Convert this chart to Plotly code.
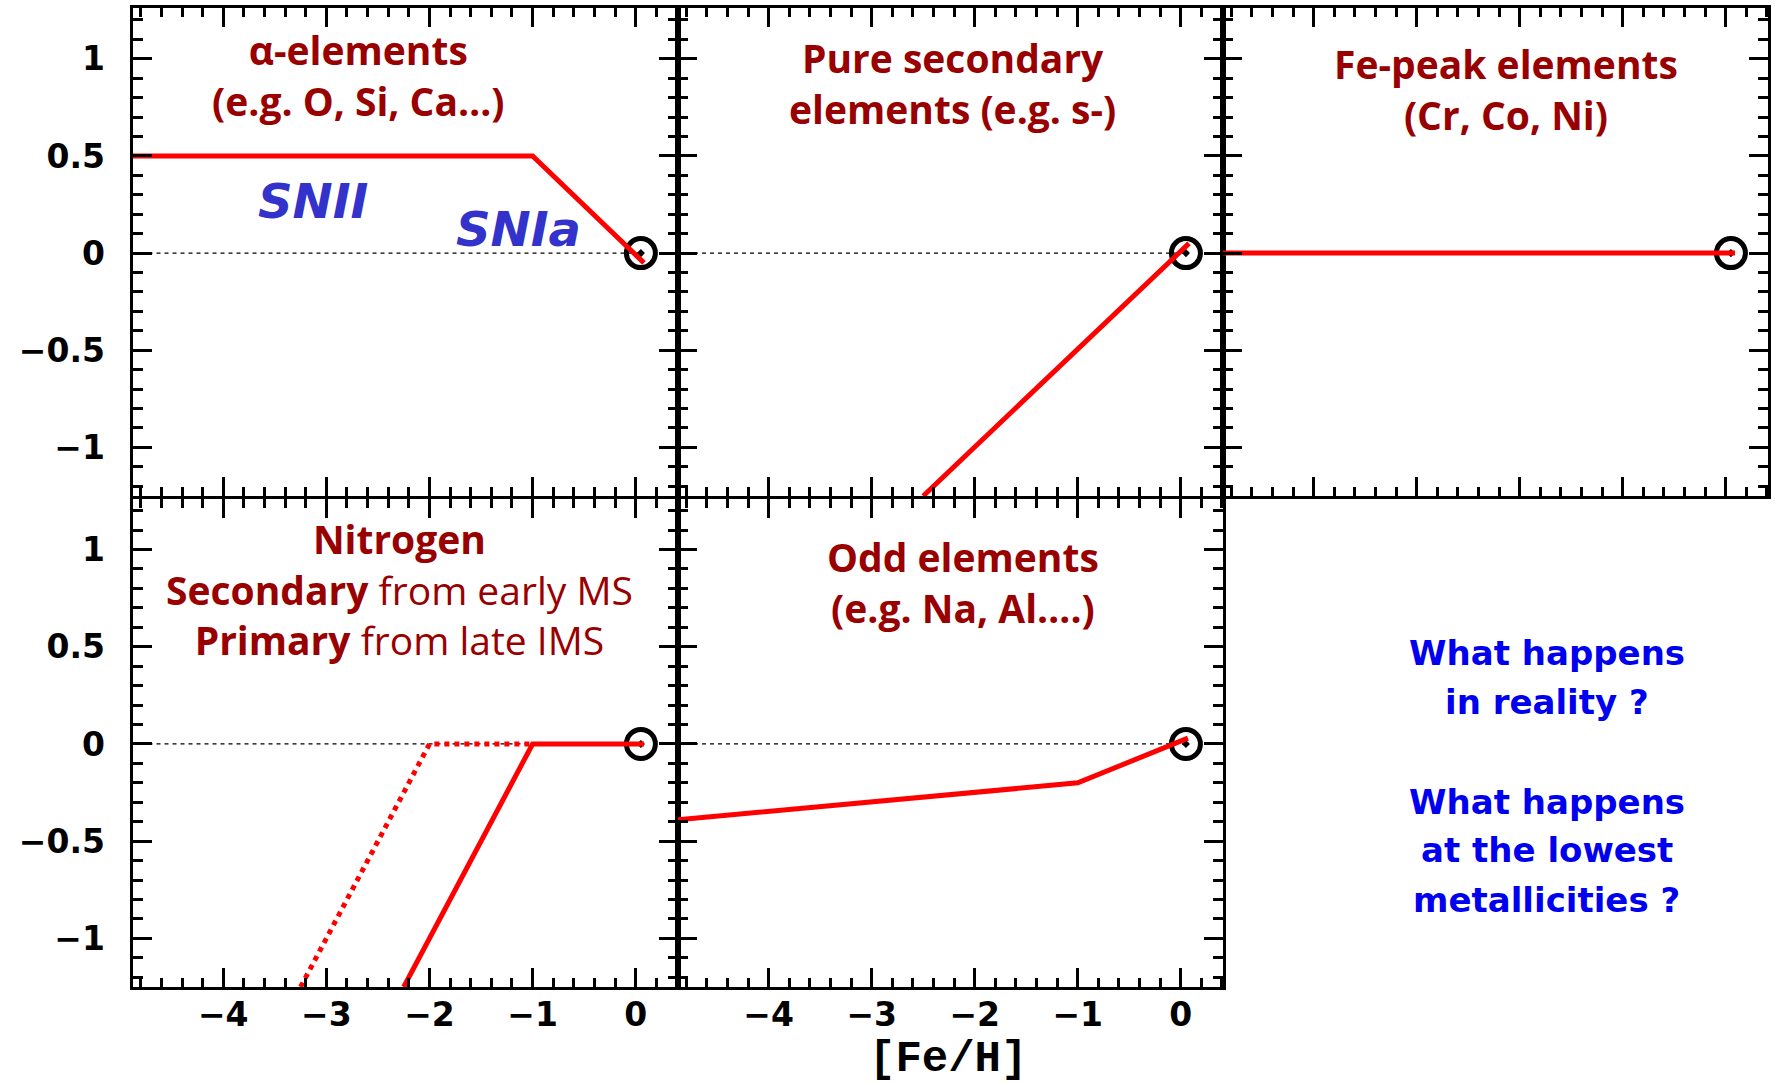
import plotly.graph_objects as go

W, H = 1775, 1084

# ---- axis ranges and tick labels -------------------------------------------
X_RANGE = [-4.88, 0.41]
Y_RANGE = [-1.25, 1.26]
x_tickvals = [-4, -3, -2, -1, 0]
x_ticktext = ["\u22124", "\u22123", "\u22122", "\u22121", "0"]
y_tickvals = [-1, -0.5, 0, 0.5, 1]
y_ticktext = ["\u22121", "\u22120.5", "0", "0.5", "1"]

# ---- schematic [X/Fe] vs [Fe/H] tracks --------------------------------------
sun_feh = [0.05]
sun_xfe = [0.0]

zero_feh = [-4.88, 0.05]
zero_xfe = [0.0, 0.0]

alpha_feh = [-4.88, -1.0, 0.08]
alpha_xfe = [0.5, 0.5, -0.05]

secondary_feh = [-2.5, 0.08]
secondary_xfe = [-1.25, 0.05]

fepeak_feh = [-4.88, 0.09]
fepeak_xfe = [0.0, 0.0]

nitro_sec_feh = [-2.25, -1.0, 0.08]
nitro_sec_xfe = [-1.25, 0.0, 0.0]
nitro_prim_feh = [-3.25, -2.0, -1.0]
nitro_prim_xfe = [-1.25, 0.0, 0.0]

odd_feh = [-4.88, -1.0, 0.07]
odd_xfe = [-0.39, -0.2, 0.03]

# ---- panel geometry (pixels) -----------------------------------------------
col_px = [(132.5, 678.0), (678.0, 1223.0), (1223.0, 1768.0)]
row_px = [(8.3, 496.0), (499.0, 987.0)]


def xdom(c):
    a, b = col_px[c]
    return [a / W, b / W]


def ydom(r):
    a, b = row_px[r]
    return [1 - b / H, 1 - a / H]


RED = "#ff0000"
DARKRED = "#990000"
TICKFONT = dict(family="DejaVu Sans", size=33, color="black", weight="bold")

fig = go.Figure()

# panel index -> (row, col, show x labels, show y labels)
panels = {
    1: (0, 0, False, True),
    2: (0, 1, False, False),
    3: (0, 2, False, False),
    4: (1, 0, True, True),
    5: (1, 1, True, False),
}

for i, (r, c, showx, showy) in panels.items():
    sfx = "" if i == 1 else str(i)
    common = dict(
        showline=True, linewidth=3, linecolor="black", mirror="allticks",
        ticks="inside", tickwidth=3, ticklen=19, tickcolor="black",
        showgrid=False, zeroline=False, tickfont=TICKFONT,
    )
    fig.layout["xaxis" + sfx] = dict(
        common, domain=xdom(c), range=X_RANGE, anchor="y" + sfx,
        tickmode="array", tickvals=x_tickvals, ticktext=x_ticktext,
        showticklabels=showx, ticklabelstandoff=-4,
        minor=dict(tickmode="linear", tick0=0, dtick=0.2, ticks="inside",
                   ticklen=9, tickwidth=3, tickcolor="black"),
    )
    fig.layout["yaxis" + sfx] = dict(
        common, domain=ydom(r), range=Y_RANGE, anchor="x" + sfx,
        tickmode="array", tickvals=y_tickvals, ticktext=y_ticktext,
        showticklabels=showy, ticklabelstandoff=18,
        minor=dict(tickmode="linear", tick0=0, dtick=0.1, ticks="inside",
                   ticklen=10, tickwidth=3, tickcolor="black"),
    )


def axes(i):
    sfx = "" if i == 1 else str(i)
    return dict(xaxis="x" + sfx, yaxis="y" + sfx)


def zero_line(i):
    fig.add_trace(go.Scatter(x=zero_feh, y=zero_xfe, mode="lines",
                             line=dict(color="black", width=1.2, dash="4px,4px"),
                             showlegend=False, hoverinfo="skip", **axes(i)))


def sun(i):
    fig.add_trace(go.Scatter(x=sun_feh, y=sun_xfe, mode="markers",
                             marker=dict(symbol="circle-open-dot", size=29,
                                         color="black",
                                         line=dict(color="black", width=5)),
                             showlegend=False, hoverinfo="skip", **axes(i)))


def track(i, xs, ys, dash="solid"):
    fig.add_trace(go.Scatter(x=xs, y=ys, mode="lines",
                             line=dict(color=RED, width=5, dash=dash),
                             showlegend=False, hoverinfo="skip", **axes(i)))


for i in (1, 2, 4, 5):
    zero_line(i)
for i in (1, 2, 3, 4, 5):
    sun(i)

track(1, alpha_feh, alpha_xfe)
track(2, secondary_feh, secondary_xfe)
track(3, fepeak_feh, fepeak_xfe)
track(4, nitro_prim_feh, nitro_prim_xfe, dash="dot")
track(4, nitro_sec_feh, nitro_sec_xfe)
track(5, odd_feh, odd_xfe)

# ---- panel labels -----------------------------------------------------------
TITLE_FONT = dict(family="Open Sans", size=39, color=DARKRED)


def label(i, x, y, text, font):
    sfx = "" if i == 1 else str(i)
    fig.add_annotation(x=x, y=y, xref="x" + sfx, yref="y" + sfx, text=text,
                       showarrow=False, font=font, xanchor="center",
                       yanchor="middle")


bold_title = dict(TITLE_FONT, weight="bold")
label(1, -2.69, 0.915, "\u03b1-elements<br>(e.g. O, Si, Ca\u2026)", bold_title)
label(2, -2.22, 0.878, "Pure secondary<br>elements (e.g. s-)", bold_title)
label(3, -2.135, 0.844, "Fe-peak elements<br>(Cr, Co, Ni)", bold_title)
label(4, -2.29, 0.795,
      "<b>Nitrogen</b><br><b>Secondary</b> from early MS"
      "<br><b>Primary</b> from late IMS", TITLE_FONT)
label(5, -2.115, 0.834, "Odd elements<br>(e.g. Na, Al\u2026.)", bold_title)

SN_FONT = dict(family="DejaVu Sans", size=48, color="#3333cc", weight="bold",
               style="italic")
label(1, -3.13, 0.268, "SNII", SN_FONT)
label(1, -1.14, 0.122, "SNIa", SN_FONT)

# ---- questions in the empty sixth cell -------------------------------------
question_lines = ["What happens", "in reality ?", "What happens",
                  "at the lowest", "metallicities ?"]
question_y_px = [653, 701.5, 801.6, 850, 900]
for txt, ypx in zip(question_lines, question_y_px):
    fig.add_annotation(x=1546.5 / W, y=1 - ypx / H, xref="paper", yref="paper",
                       text=txt, showarrow=False, xanchor="center",
                       yanchor="middle", height=46,
                       font=dict(family="DejaVu Sans", size=34, color="#0000f0",
                                 weight="bold"))

# shared x-axis title
fig.add_annotation(x=948 / W, y=1 - 1059 / H, xref="paper", yref="paper",
                   text="[Fe/H]", showarrow=False, xanchor="center",
                   yanchor="middle", height=44,
                   font=dict(family="Liberation Mono", size=44, color="black",
                             weight="bold"))

fig.update_layout(width=W, height=H, margin=dict(l=0, r=0, t=0, b=0),
                  paper_bgcolor="white", plot_bgcolor="white",
                  showlegend=False)

fig.write_html("out.html")
